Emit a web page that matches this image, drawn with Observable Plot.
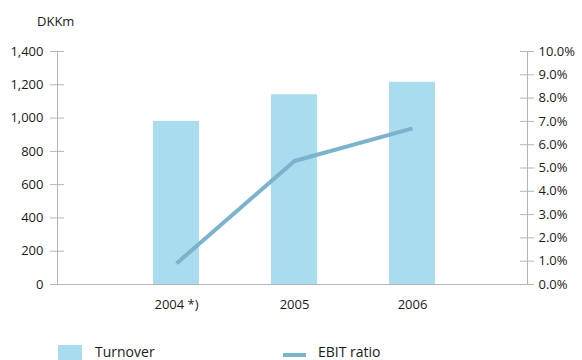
<!DOCTYPE html>
<html>
<head>
<meta charset="utf-8">
<script src="https://cdn.jsdelivr.net/npm/d3@7"></script>
<script src="https://cdn.jsdelivr.net/npm/@observablehq/plot@0.6"></script>
<style>
  html, body { margin: 0; padding: 0; background: #fff; }
  #wrap { position: relative; width: 582px; height: 360px; overflow: hidden; font-family: "Open Sans", sans-serif; color: #1a1a1a; }
  #unit { position: absolute; left: 37px; top: 12px; font-size: 13px; }
  #chart { position: absolute; left: 0; top: 0; }
  .leg { position: absolute; font-size: 14px; white-space: nowrap; line-height: 1; }
  .sw { position: absolute; }
</style>
</head>
<body>
<div id="wrap">
  <div id="chart"></div>
  <div id="unit">DKKm</div>
  <div class="sw" style="left:58px; top:345px; width:24px; height:16px; background:#a8dcee;"></div>
  <div class="leg" style="left:95px; top:345px;">Turnover</div>
  <div class="sw" style="left:283px; top:353px; width:23px; height:4px; background:#7bb3cd;"></div>
  <div class="leg" style="left:318px; top:345px;">EBIT ratio</div>
</div>
<script>
const years = ["2004 *)", "2005", "2006"];
const turnover = [980, 1140, 1215];
const ebitRatio = [0.9, 5.3, 6.7];
const leftTicks = [0, 200, 400, 600, 800, 1000, 1200, 1400];
const rightTicks = [0, 1, 2, 3, 4, 5, 6, 7, 8, 9, 10];

const k = 1400 / 10; // percent -> left-axis units
const data = years.map((y, i) => ({year: y, turnover: turnover[i], ebit: ebitRatio[i]}));

const axisColor = "#b5b5b5";
const W = 582, H = 320, mL = 57, mR = 55, mT = 51, mB = 36;
const inner = W - mL - mR;

const chart = Plot.plot({
  width: W,
  height: H,
  marginLeft: mL,
  marginRight: mR,
  marginTop: mT,
  marginBottom: mB,
  style: {fontFamily: "'Open Sans', sans-serif", fontSize: "13px", color: "#1a1a1a", background: "transparent"},
  x: {domain: years, range: [56.25, 531.25], paddingInner: 0.613, paddingOuter: 0.8065},
  y: {domain: [0, 1400]},
  marks: [
    Plot.barY(data, {x: "year", y: "turnover", fill: "#a8dcee"}),
    Plot.frame({anchor: "left", stroke: axisColor}),
    Plot.frame({anchor: "right", stroke: axisColor}),
    Plot.ruleY(leftTicks, {y: d => d, stroke: axisColor, insetLeft: -7, insetRight: inner - 7}),
    Plot.ruleY(rightTicks, {y: d => d * k, stroke: axisColor, insetLeft: inner - 7, insetRight: -7}),
    Plot.ruleY([0], {stroke: axisColor}),
    Plot.line(data, {x: "year", y: d => d.ebit * k, stroke: "#7bb3cd", strokeWidth: 4, strokeLinecap: "butt", strokeLinejoin: "miter"}),
    Plot.axisY(leftTicks, {anchor: "left", tickSize: 0, tickPadding: 14, label: null, tickFormat: d => d.toLocaleString("en-US")}),
    Plot.axisY(rightTicks.map(d => d * k), {anchor: "right", tickSize: 0, tickPadding: 11, label: null, tickFormat: d => (d / k).toFixed(1) + "%"}),
    Plot.axisX({anchor: "bottom", tickSize: 0, tickPadding: 15, label: null})
  ]
});
document.getElementById("chart").appendChild(chart);
</script>
</body>
</html>
